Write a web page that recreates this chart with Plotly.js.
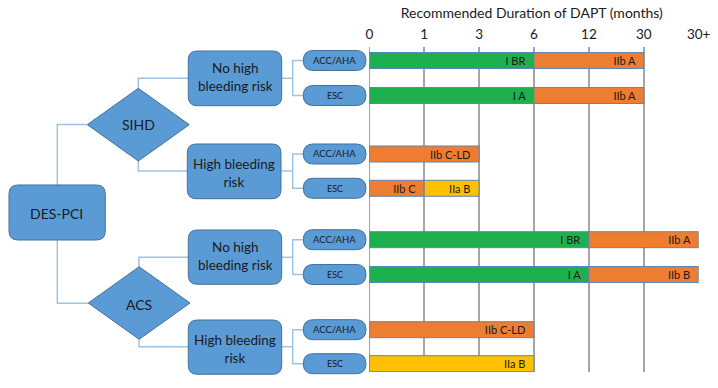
<!DOCTYPE html>
<html>
<head>
<meta charset="utf-8">
<script src="https://cdn.plot.ly/plotly-3.0.1.min.js"></script>
<style>
  html, body { margin: 0; padding: 0; background: #fff; }
  #chart { width: 718px; height: 388px; }
</style>
</head>
<body>
<div id="chart"></div>
<script>
// ---------------- DATA ----------------
const tickLabels = ['0', '1', '3', '6', '12', '30', '30+'];

const rowNames = [
  'SIHD · No high bleeding risk · ACC/AHA',
  'SIHD · No high bleeding risk · ESC',
  'SIHD · High bleeding risk · ACC/AHA',
  'SIHD · High bleeding risk · ESC',
  'ACS · No high bleeding risk · ACC/AHA',
  'ACS · No high bleeding risk · ESC',
  'ACS · High bleeding risk · ACC/AHA',
  'ACS · High bleeding risk · ESC'
];
const seg1End   = ['6', '6', '3', '1', '12', '12', '6', '6'];
const seg1Class = ['I BR', 'I A', 'IIb C-LD', 'IIb C', 'I BR', 'I A', 'IIb C-LD', 'IIa B'];
const seg2End   = ['30', '30', '', '3', '30+', '30+', '', ''];
const seg2Class = ['IIb A', 'IIb A', '', 'IIa B', 'IIb A', 'IIb B', '', ''];

const guidelines = ['ACC/AHA', 'ESC', 'ACC/AHA', 'ESC', 'ACC/AHA', 'ESC', 'ACC/AHA', 'ESC'];
const riskLabels = ['No high<br>bleeding risk', 'High bleeding<br>risk', 'No high<br>bleeding risk', 'High bleeding<br>risk'];
const presentations = ['SIHD', 'ACS'];
const rootLabel = 'DES-PCI';
const chartTitle = 'Recommended Duration of DAPT (months)';

// ---------------- LAYOUT CONSTANTS ----------------
const W = 718, H = 388;
const PLOT_X0 = 369.3, PLOT_X1 = 698.7, PLOT_Y0 = 47, PLOT_Y1 = 372;
const ROW_Y = [60.5, 95.5, 154, 188.3, 239.7, 274.5, 329.7, 363.7];
const BAR_H = 16;
const FONT = 'Lato, "Open Sans", sans-serif';
const TXT = '#1a1a1a';
const BLUE = '#5b9bd5', BLUE_LINE = '#41719c', CONN = '#9dc3e6';

function classColor(c) {
  if (c.startsWith('IIa')) return '#ffc000';
  if (c.startsWith('IIb')) return '#ed7d31';
  return '#1fb04e';
}
const idx = l => tickLabels.indexOf(l);

// bars
const s1Base = rowNames.map(() => 0);
const s1Len = seg1End.map(e => idx(e));
const s2Base = [], s2Len = [], s2Y = [], s2Txt = [], s2Col = [];
seg2End.forEach((e, i) => {
  if (!e) return;
  s2Base.push(idx(seg1End[i]));
  s2Len.push(idx(e) - idx(seg1End[i]));
  s2Y.push(ROW_Y[i]);
  s2Txt.push(seg2Class[i]);
  s2Col.push(classColor(seg2Class[i]));
});

const barCommon = {
  type: 'bar', orientation: 'h', width: BAR_H,
  textposition: 'inside', insidetextanchor: 'end', textangle: 0, constraintext: 'none',
  texttemplate: '%{text}\u00a0\u00a0',
  textfont: {family: FONT, size: 11, color: TXT},
  hoverinfo: 'skip', showlegend: false, cliponaxis: false
};
const traces = [
  Object.assign({}, barCommon, {
    y: ROW_Y, x: s1Len, base: s1Base, text: seg1Class,
    marker: {color: seg1Class.map(classColor), line: {color: '#5a86b8', width: 1}}
  }),
  Object.assign({}, barCommon, {
    y: s2Y, x: s2Len, base: s2Base, text: s2Txt,
    marker: {color: s2Col, line: {color: '#5a86b8', width: 1}}
  })
];

// ---------------- flowchart shapes (pixel -> paper) ----------------
const px = x => x / W, py = y => 1 - y / H;
function pathFrom(cmds) {
  return cmds.map(c => {
    if (c[0] === 'Z') return 'Z';
    let s = c[0];
    for (let k = 1; k < c.length; k += 2) s += ' ' + px(c[k]).toFixed(5) + ',' + py(c[k + 1]).toFixed(5);
    return s;
  }).join(' ');
}
function rrect(x0, y0, x1, y1, r) {
  return pathFrom([
    ['M', x0 + r, y0], ['L', x1 - r, y0], ['Q', x1, y0, x1, y0 + r],
    ['L', x1, y1 - r], ['Q', x1, y1, x1 - r, y1], ['L', x0 + r, y1],
    ['Q', x0, y1, x0, y1 - r], ['L', x0, y0 + r], ['Q', x0, y0, x0 + r, y0], ['Z']
  ]);
}
function diamond(xl, xr, yt, yb) {
  const cx = (xl + xr) / 2, cy = (yt + yb) / 2;
  return pathFrom([['M', xl, cy], ['L', cx, yt], ['L', xr, cy], ['L', cx, yb], ['Z']]);
}
const shapes = [];
function conn(points) {
  const cmds = points.map((p, i) => [i === 0 ? 'M' : 'L', p[0], p[1]]);
  shapes.push({type: 'path', xref: 'paper', yref: 'paper', path: pathFrom(cmds),
    line: {color: CONN, width: 1.5}});
}
function box(path) {
  shapes.push({type: 'path', xref: 'paper', yref: 'paper', path: path,
    fillcolor: BLUE, line: {color: BLUE_LINE, width: 1}});
}

// connectors
conn([[57.3, 185], [57.3, 124.5], [87.3, 124.5]]);
conn([[57.3, 240], [57.3, 303.3], [88.3, 303.3]]);
conn([[138.3, 88.3], [138.3, 78.3], [188.3, 78.3]]);
conn([[138.3, 161], [138.3, 171], [187.3, 171]]);
conn([[139, 266.7], [139, 257.3], [188.3, 257.3]]);
conn([[139, 339.3], [139, 346.7], [188.3, 346.7]]);
const boxRightY = [78.3, 171, 257.3, 346.7];
boxRightY.forEach((y, g) => {
  conn([[281.5, y], [292.7, y]]);
  const a = ROW_Y[2 * g], b = ROW_Y[2 * g + 1];
  conn([[303.5, a], [292.7, a], [292.7, b], [303.5, b]]);
});

// root
box(rrect(9, 185, 105.3, 240, 9));
// diamonds
box(diamond(87.3, 189.3, 88.3, 161));
box(diamond(88.3, 190, 266.7, 339.3));
// risk boxes
const riskBoxes = [[188.3, 51, 281.7, 105.7], [187.3, 144, 281, 198.7], [188.3, 230, 281.7, 284.3], [188.3, 320, 281.7, 374.3]];
riskBoxes.forEach(b => box(rrect(b[0], b[1], b[2], b[3], 9)));
// guideline pills
ROW_Y.forEach(y => box(rrect(303.3, y - 10, 366, y + 10, 10)));

// zero axis line
shapes.push({type: 'line', xref: 'x', yref: 'y', x0: 0, x1: 0, y0: PLOT_Y0, y1: PLOT_Y1,
  line: {color: '#7f7f7f', width: 1.5}});

// ---------------- annotations ----------------
const annotations = [];
function label(text, x, y, size) {
  annotations.push({xref: 'paper', yref: 'paper', x: px(x), y: py(y), text: text,
    showarrow: false, xanchor: 'center', yanchor: 'middle', align: 'center',
    font: {family: FONT, size: size, color: TXT}});
}
label(rootLabel, 57, 213.3, 14);
label(presentations[0], 138.3, 125, 14);
label(presentations[1], 139, 304, 14);
const riskTextY = [77, 173.3, 256, 349];
riskLabels.forEach((t, g) => {
  const cx = (riskBoxes[g][0] + riskBoxes[g][2]) / 2;
  label(t, cx, riskTextY[g], 13.5);
});
guidelines.forEach((gname, i) => label(gname, 334.5, ROW_Y[i], gname === 'ESC' ? 9 : 9.5));

// ---------------- layout ----------------
const layout = {
  width: W, height: H,
  margin: {l: 0, r: 0, t: 0, b: 0, pad: 0},
  paper_bgcolor: '#fff', plot_bgcolor: 'rgba(0,0,0,0)',
  barmode: 'overlay',
  title: {text: chartTitle, x: (PLOT_X0 + PLOT_X1) / 2 / W - 0.003, y: py(13.5),
    xanchor: 'center', yanchor: 'middle', xref: 'paper', yref: 'paper',
    font: {family: FONT, size: 14, color: TXT}},
  xaxis: {
    domain: [px(PLOT_X0), px(PLOT_X1)], range: [0, 6], side: 'top', anchor: 'y',
    tickmode: 'array', tickvals: tickLabels.map((t, i) => i), ticktext: tickLabels,
    ticks: '', ticklabelstandoff: 4,
    tickfont: {family: FONT, size: 13.5, color: TXT},
    showgrid: true, gridcolor: '#a6a6a6', gridwidth: 1.5,
    zeroline: false, showline: false, fixedrange: true
  },
  yaxis: {
    domain: [1 - PLOT_Y1 / H, 1 - PLOT_Y0 / H], range: [PLOT_Y1, PLOT_Y0],
    showgrid: false, zeroline: false, showticklabels: false, showline: false, fixedrange: true
  },
  shapes: shapes,
  annotations: annotations,
  showlegend: false
};

Plotly.newPlot('chart', traces, layout, {staticPlot: true, displayModeBar: false});
</script>
</body>
</html>
